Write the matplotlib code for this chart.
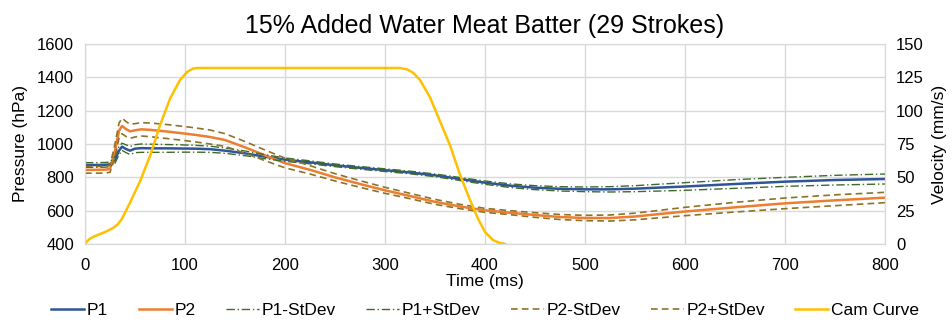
import matplotlib
matplotlib.use("Agg")
import matplotlib.pyplot as plt

plt.rcParams["font.family"] = ["Liberation Sans", "DejaVu Sans"]

# pressure data (hPa)
time_ms = [0, 10, 20, 25, 30, 34, 37, 41, 45, 50, 56, 65, 80, 95, 110, 125, 140,
           160, 180, 200, 225, 250, 275, 300, 325, 350, 375, 400, 425, 450, 475,
           500, 525, 550, 600, 650, 700, 750, 800]
p1 = [874, 874, 875, 878, 905, 960, 984, 970, 960, 972, 975, 974, 974, 973, 972,
      969, 960, 944, 924, 906, 890, 872, 857, 843, 829, 812, 790, 768, 750, 738,
      731, 728, 728, 732, 745, 760, 774, 784, 790]
p2 = [845, 845, 846, 850, 960, 1080, 1108, 1090, 1076, 1082, 1088, 1085, 1076,
      1066, 1055, 1042, 1024, 980, 932, 885, 845, 800, 760, 722, 688, 653, 625,
      602, 588, 574, 562, 556, 556, 565, 595, 620, 644, 662, 678]
p1_minus = [860, 860, 861, 864, 885, 935, 962, 948, 937, 948, 950, 950, 950, 951,
            951, 950, 944, 930, 912, 896, 881, 864, 849, 835, 821, 804, 781, 758,
            739, 726, 718, 714, 712, 714, 722, 734, 746, 754, 760]
p1_plus = [888, 888, 889, 892, 925, 985, 1005, 995, 985, 996, 1000, 999, 997, 995,
           992, 987, 976, 958, 936, 916, 899, 880, 865, 851, 837, 820, 799, 778,
           761, 750, 744, 742, 744, 750, 768, 786, 800, 812, 820]
p2_minus = [825, 825, 826, 830, 920, 1035, 1062, 1045, 1034, 1042, 1048, 1044,
            1034, 1024, 1013, 1000, 986, 945, 900, 857, 820, 778, 740, 704, 672,
            638, 612, 590, 576, 560, 547, 540, 538, 545, 570, 592, 612, 630, 648]
p2_plus = [865, 865, 866, 872, 1000, 1125, 1155, 1135, 1118, 1122, 1128, 1126,
           1118, 1108, 1097, 1084, 1062, 1015, 964, 915, 870, 822, 780, 740, 704,
           668, 638, 614, 600, 588, 577, 572, 574, 585, 620, 650, 676, 695, 710]

# cam curve velocity (mm/s)
cam_t = [0, 2, 5, 10, 20, 28, 33, 37, 45, 55, 65, 75, 85, 95, 102, 108, 112, 120,
         200, 300, 315, 322, 328, 335, 345, 355, 365, 375, 385, 393, 400, 408,
         414, 420]
cam_v = [0, 2, 4, 6, 9, 12, 15, 19, 31, 47, 66, 89, 109, 123, 129, 131.5, 132,
         132, 132, 132, 132, 131, 128.5, 123, 110, 92, 74, 52, 33, 19, 9, 3, 1, 0]

fig = plt.figure(figsize=(9.52, 3.22), dpi=100)
ax = fig.add_axes([0.0893, 0.2422, 0.8403, 0.6212])
ax2 = ax.twinx()

l1, = ax.plot(time_ms, p1, color="#2F5597", lw=1.8, label="P1")
l2, = ax.plot(time_ms, p2, color="#ED7D31", lw=1.8, label="P2")
l3, = ax.plot(time_ms, p1_minus, color="#3E6B2A", lw=1.0, ls=(0, (6, 2, 1, 2)), label="P1-StDev")
l4, = ax.plot(time_ms, p1_plus, color="#3E6B2A", lw=1.0, ls=(0, (6, 2, 1, 2)), label="P1+StDev")
l5, = ax.plot(time_ms, p2_minus, color="#8C7326", lw=1.2, ls=(0, (4, 2.5)), label="P2-StDev")
l6, = ax.plot(time_ms, p2_plus, color="#8C7326", lw=1.2, ls=(0, (4, 2.5)), label="P2+StDev")
l7, = ax2.plot(cam_t, cam_v, color="#FFC000", lw=1.8, label="Cam Curve")

ax.set_xlim(0, 800)
ax.set_ylim(400, 1600)
ax2.set_ylim(0, 150)
ax.set_xticks(range(0, 801, 100))
ax.set_yticks(range(400, 1601, 200))
ax2.set_yticks(range(0, 151, 25))
ax.grid(True, color="#D9D9D9", lw=1.0)
ax.set_axisbelow(True)

for a in (ax, ax2):
    a.tick_params(length=0, labelsize=12, colors="#000000", pad=8)
    for s in a.spines.values():
        s.set_color("#D9D9D9")
ax.tick_params(axis="x", pad=10)
ax.spines["bottom"].set_color("#BFBFBF")

ax.set_xlabel("Time (ms)", fontsize=12.5, labelpad=1)
ax.set_ylabel("Pressure (hPa)", fontsize=12.5, labelpad=6)
ax2.set_ylabel("Velocity (mm/s)", fontsize=12.5, labelpad=6)
ax.set_title("15% Added Water Meat Batter (29 Strokes)", fontsize=18, color="#000000", pad=8)

fig.legend(handles=[l1, l2, l3, l4, l5, l6, l7], loc="center left",
           bbox_to_anchor=(0.054, 0.035), ncol=7, frameon=False, fontsize=12.5,
           handlelength=1.9, handletextpad=0.15, columnspacing=1.75,
           borderaxespad=0, borderpad=0)

fig.savefig("out.png", dpi=100)
